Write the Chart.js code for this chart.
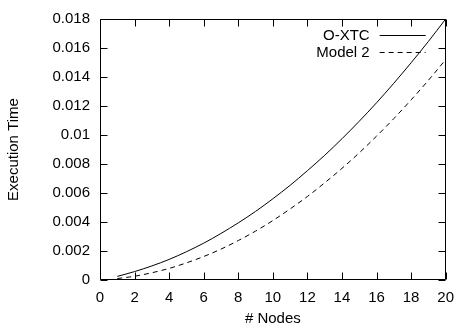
<!DOCTYPE html>
<html>
<head>
<meta charset="utf-8">
<script src="https://cdn.jsdelivr.net/npm/chart.js@4.4.1/dist/chart.umd.min.js"></script>
<style>
  html, body { margin: 0; padding: 0; background: #fff; }
  #wrap { width: 463px; height: 328px; }
</style>
</head>
<body>
<div id="wrap"><canvas id="chart"></canvas></div>
<script>
const nodes  = [1, 2, 3, 4, 5, 6, 7, 8, 9, 10, 11, 12, 13, 14, 15, 16, 17, 18, 19, 20];
const oxtc   = [0.00025, 0.00058, 0.00097, 0.00142, 0.00195, 0.00254, 0.00321, 0.00394, 0.00473, 0.0056,
                0.00653, 0.00754, 0.0086, 0.00974, 0.01095, 0.01222, 0.01357, 0.01498, 0.01645, 0.018];
const model2 = [0.0001, 0.00026, 0.0005, 0.0008, 0.00118, 0.00162, 0.00213, 0.00272, 0.00337, 0.0041,
                0.0049, 0.00576, 0.0067, 0.0077, 0.00877, 0.00992, 0.01113, 0.01242, 0.01377, 0.0152];

const xTicks      = [0, 2, 4, 6, 8, 10, 12, 14, 16, 18, 20];
const yTicks      = [0, 0.002, 0.004, 0.006, 0.008, 0.01, 0.012, 0.014, 0.016, 0.018];
const yTickLabels = ['0', '0.002', '0.004', '0.006', '0.008', '0.01', '0.012', '0.014', '0.016', '0.018'];

const FONT = { family: '"Liberation Sans", Arial, sans-serif', size: 15 };

// gnuplot-style frame with inward ticks on all four sides, plus the key
const framePlugin = {
  id: 'frame',
  afterDatasetsDraw(chart) {
    const { ctx, chartArea: a, scales: { x, y } } = chart;
    const L = Math.round(a.left) + 0.5, R = Math.round(a.right) - 0.5;
    const T = Math.round(a.top) + 0.5, B = Math.round(a.bottom) - 0.5;
    const tl = 7;
    ctx.save();
    ctx.strokeStyle = '#000';
    ctx.lineWidth = 1;
    ctx.beginPath();
    ctx.rect(L, T, R - L, B - T);
    xTicks.forEach(v => {
      const px = Math.round(x.getPixelForValue(v)) + 0.5;
      ctx.moveTo(px, B); ctx.lineTo(px, B - tl);
      ctx.moveTo(px, T); ctx.lineTo(px, T + tl);
    });
    yTicks.forEach(v => {
      const py = Math.round(y.getPixelForValue(v)) + 0.5;
      ctx.moveTo(L, py); ctx.lineTo(L + tl, py);
      ctx.moveTo(R, py); ctx.lineTo(R - tl, py);
    });
    ctx.stroke();

    // key, top right inside the plot
    const lineEnd = a.right - 20, lineStart = lineEnd - 46;
    ctx.font = FONT.size + 'px ' + FONT.family;
    ctx.textAlign = 'right';
    ctx.textBaseline = 'middle';
    chart.data.datasets.forEach((ds, i) => {
      const ly = Math.round(a.top + 16 + i * 16.5) + 0.5;
      ctx.fillStyle = '#000';
      ctx.fillText(ds.label, lineStart - 10, ly);
      ctx.setLineDash(ds.borderDash || []);
      ctx.beginPath();
      ctx.moveTo(lineStart, ly);
      ctx.lineTo(lineEnd, ly);
      ctx.stroke();
    });
    ctx.restore();
  }
};

new Chart(document.getElementById('chart'), {
  type: 'line',
  data: {
    datasets: [
      { label: 'O-XTC', data: nodes.map((n, i) => ({ x: n, y: oxtc[i] })),
        borderColor: '#000', borderWidth: 1, pointRadius: 0, cubicInterpolationMode: 'monotone' },
      { label: 'Model 2', data: nodes.map((n, i) => ({ x: n, y: model2[i] })),
        borderColor: '#000', borderWidth: 1, borderDash: [5, 4], pointRadius: 0, cubicInterpolationMode: 'monotone' }
    ]
  },
  options: {
    responsive: true,
    maintainAspectRatio: false,
    animation: false,
    layout: { padding: { top: 14, right: 11, left: 0, bottom: 0 } },
    plugins: { legend: { display: false }, tooltip: { enabled: false } },
    scales: {
      x: {
        type: 'linear', min: 0, max: 20,
        afterBuildTicks: s => { s.ticks = xTicks.map(v => ({ value: v })); },
        afterFit: s => { s.height = 48; },
        grid: { display: false, drawTicks: false },
        border: { display: false },
        ticks: { color: '#000', font: FONT, padding: 9, maxRotation: 0 },
        title: { display: true, text: '# Nodes', color: '#000', font: FONT, padding: { top: 0, bottom: 0 } }
      },
      y: {
        type: 'linear', min: 0, max: 0.018,
        afterBuildTicks: s => { s.ticks = yTicks.map(v => ({ value: v })); },
        afterFit: s => { s.width = 100; },
        grid: { display: false, drawTicks: false },
        border: { display: false },
        ticks: { color: '#000', font: FONT, padding: 10, callback: (v, i) => yTickLabels[i] },
        title: { display: true, text: 'Execution Time', color: '#000', font: FONT, padding: { top: 5, bottom: 0 } }
      }
    }
  },
  plugins: [framePlugin]
});
</script>
</body>
</html>
